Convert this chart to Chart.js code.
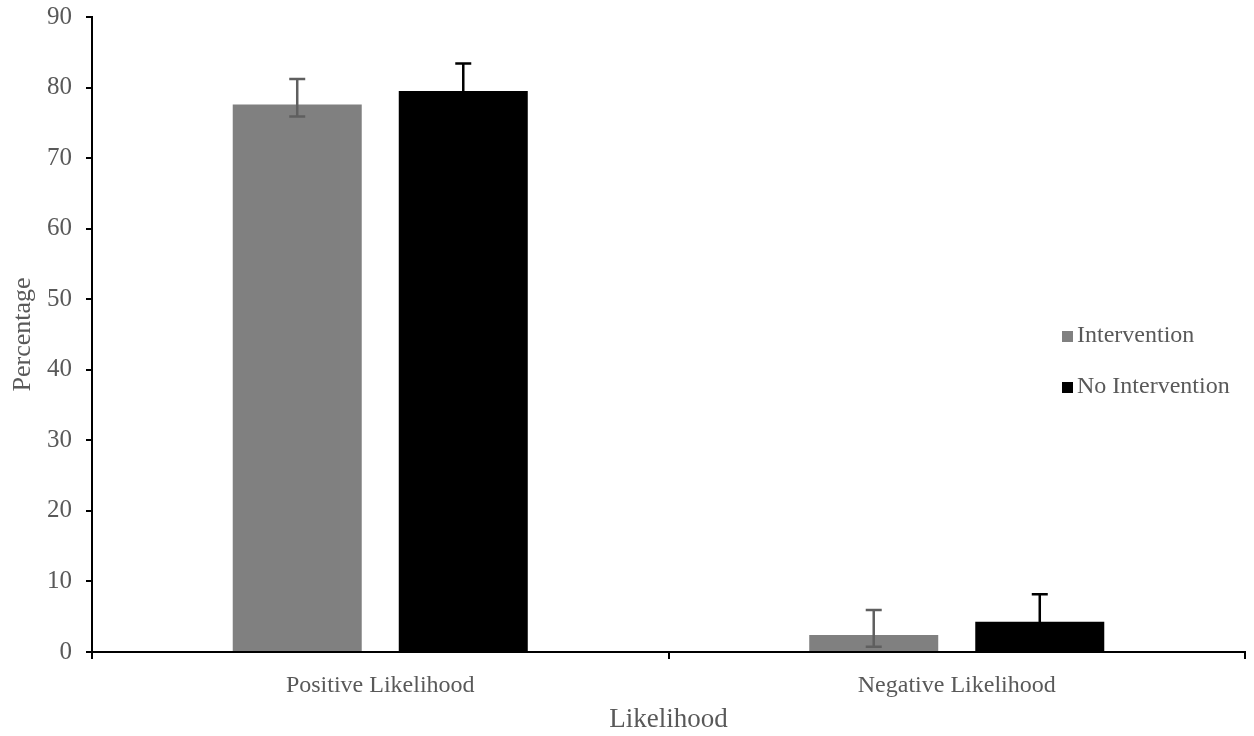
<!DOCTYPE html>
<html>
<head>
<meta charset="utf-8">
<script src="https://cdn.jsdelivr.net/npm/chart.js@4/dist/chart.umd.min.js"></script>
<style>
html,body{margin:0;padding:0;background:#fff;}
#wrap{width:1254px;height:736px;position:relative;}
</style>
</head>
<body>
<div id="wrap"><canvas id="c"></canvas></div>
<script>
const categories = ['Positive Likelihood', 'Negative Likelihood'];
const seriesNames = ['Intervention', 'No Intervention'];
const intervention = [77.6, 2.4];
const noIntervention = [79.5, 4.3];
const interventionErrLow = [75.9, 0.75];
const interventionErrHigh = [81.2, 5.95];
const noInterventionErrLow = [75.6, 0.4];
const noInterventionErrHigh = [83.4, 8.2];
const yTicks = [0, 10, 20, 30, 40, 50, 60, 70, 80, 90];

const FONT = '"Liberation Serif", "Times New Roman", serif';
const TXT = '#595959';

const errorBars = {
  id: 'errorBars',
  afterDatasetsDraw(chart) {
    const ctx = chart.ctx;
    const y = chart.scales.y;
    chart.data.datasets.forEach((ds, di) => {
      const meta = chart.getDatasetMeta(di);
      meta.data.forEach((bar, i) => {
        const x = bar.x;
        const yTop = y.getPixelForValue(ds.errHigh[i]);
        const yBot = y.getPixelForValue(ds.errLow[i]);
        ctx.save();
        ctx.strokeStyle = ds.errColor;
        ctx.lineWidth = 2.5;
        ctx.beginPath();
        ctx.moveTo(x, yTop); ctx.lineTo(x, yBot);
        ctx.moveTo(x - 8, yTop); ctx.lineTo(x + 8, yTop);
        ctx.moveTo(x - 8, yBot); ctx.lineTo(x + 8, yBot);
        ctx.stroke();
        ctx.restore();
      });
    });
  }
};

const customLegend = {
  id: 'customLegend',
  afterDraw(chart) {
    const ctx = chart.ctx;
    ctx.save();
    ctx.font = '24px ' + FONT;
    ctx.textBaseline = 'alphabetic';
    chart.data.datasets.forEach((ds, i) => {
      const baseY = 342 + i * 51;
      ctx.fillStyle = ds.backgroundColor;
      ctx.fillRect(1062, baseY - 11, 11, 11);
      ctx.fillStyle = TXT;
      ctx.fillText(ds.label, 1077, baseY);
    });
    ctx.restore();
  }
};

new Chart(document.getElementById('c'), {
  type: 'bar',
  data: {
    labels: categories,
    datasets: [
      { label: seriesNames[0], data: intervention, backgroundColor: '#808080',
        errLow: interventionErrLow, errHigh: interventionErrHigh, errColor: '#5f5f5f',
        categoryPercentage: 0.576, barPercentage: 0.777 },
      { label: seriesNames[1], data: noIntervention, backgroundColor: '#000000',
        errLow: noInterventionErrLow, errHigh: noInterventionErrHigh, errColor: '#000000',
        categoryPercentage: 0.576, barPercentage: 0.777 }
    ]
  },
  options: {
    responsive: true,
    maintainAspectRatio: false,
    animation: false,
    layout: { padding: { top: 17, right: 9, left: 0, bottom: 0 } },
    plugins: { legend: { display: false }, tooltip: { enabled: false } },
    scales: {
      x: {
        grid: { offset: true, drawOnChartArea: false, color: '#000', lineWidth: 2, tickLength: 7 },
        border: { color: '#000', width: 2 },
        ticks: { color: TXT, font: { family: FONT, size: 24 }, padding: 12 },
        title: { display: true, text: 'Likelihood', color: TXT, font: { family: FONT, size: 27 }, padding: { top: 0, bottom: 0 } },
        afterFit(s) { s.height = 84; s.paddingLeft = 0; s.paddingRight = 0; }
      },
      y: {
        min: 0, max: 90,
        afterBuildTicks(s) { s.ticks = yTicks.map(v => ({ value: v })); },
        grid: { drawOnChartArea: false, color: '#000', lineWidth: 2, tickLength: 6 },
        border: { color: '#000', width: 2 },
        ticks: { color: TXT, font: { family: FONT, size: 25 }, padding: 14 },
        title: { display: true, text: 'Percentage', color: TXT, font: { family: FONT, size: 26 }, padding: { top: 8, bottom: 0 } },
        afterFit(s) { s.width = 92; s.paddingTop = 0; s.paddingBottom = 0; }
      }
    }
  },
  plugins: [errorBars, customLegend]
});
</script>
</body>
</html>
